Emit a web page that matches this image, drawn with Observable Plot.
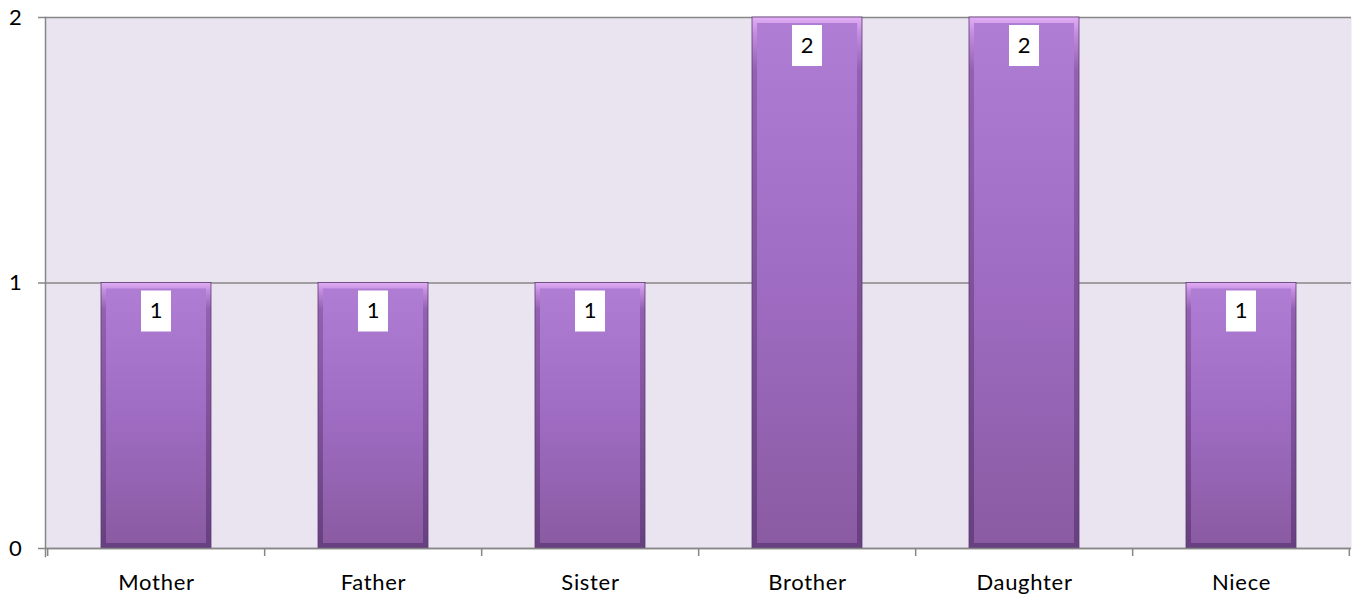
<!DOCTYPE html>
<html>
<head>
<meta charset="utf-8">
<script src="https://cdn.jsdelivr.net/npm/d3@7"></script>
<script src="https://cdn.jsdelivr.net/npm/@observablehq/plot@0.6"></script>
<style>
  html, body { margin: 0; padding: 0; background: #ffffff; }
  #chart svg { display: block; }
</style>
</head>
<body>
<div id="chart"></div>
<script>
const categories = ["Mother", "Father", "Sister", "Brother", "Daughter", "Niece"];
const counts = [1, 1, 1, 2, 2, 1];
const yTicks = [0, 1, 2];

const data = categories.map((c, i) => ({category: c, count: counts[i]}));

const W = 1353, H = 594;
const mL = 45, mR = 2, mT = 17, mB = 46;
const halfBand = (W - mL - mR) / categories.length / 2;
const fontFamily = "Lato, 'Open Sans', sans-serif";
const axisGray = "#878787";

const chart = Plot.plot({
  width: W,
  height: H,
  marginLeft: mL,
  marginRight: mR,
  marginTop: mT,
  marginBottom: mB,
  style: {fontFamily, fontSize: "22px", color: "#000", background: "#ffffff", letterSpacing: "0.7px"},
  x: {type: "band", domain: categories, paddingInner: 0.495, paddingOuter: 0.2475, label: null},
  y: {type: "linear", domain: [0, 2], label: null},
  marks: [
    Plot.frame({fill: "#eae3f0", stroke: null}),
    Plot.gridY(yTicks, {stroke: axisGray, strokeOpacity: 1, strokeWidth: 1.5}),
    // outer bevel layer
    Plot.barY(data, {x: "category", y: "count", fill: "url(#bevelGrad)", stroke: "#5e3a73", strokeWidth: 0.8}),
    // inner face
    Plot.barY(data, {x: "category", y: "count", fill: "url(#faceGrad)", insetLeft: 5, insetRight: 5, insetTop: 6, insetBottom: 5}),
    // label boxes
    Plot.barY(data, {x: "category", y1: "count", y2: "count", fill: "#ffffff", insetLeft: 40, insetRight: 40, insetTop: 8, insetBottom: -49}),
    Plot.text(data, {x: "category", y: "count", text: d => String(d.count), dy: 28, fontSize: 22, fill: "#000", lineAnchor: "middle"}),
    // axis lines
    Plot.frame({anchor: "left", stroke: axisGray, strokeWidth: 1.5, insetBottom: -8}),
    Plot.ruleY([0], {stroke: axisGray, strokeWidth: 1.5}),
    // category boundary ticks
    Plot.ruleX(categories, {x: d => d, dx: -halfBand, y1: 0, y2: 0, insetBottom: -8, stroke: axisGray, strokeWidth: 1.5}),
    Plot.ruleX(categories.slice(-1), {x: d => d, dx: halfBand - 1, y1: 0, y2: 0, insetBottom: -8, stroke: axisGray, strokeWidth: 1.5}),
    Plot.axisY(yTicks, {tickSize: 7, tickPadding: 16, stroke: axisGray, strokeWidth: 1.5, fontSize: 22, tickFormat: d => String(d)}),
    Plot.axisX({tickSize: 0, tickPadding: 26, fontSize: 22})
  ]
});

// gradients
const svg = d3.select(chart);
const defs = svg.insert("defs", ":first-child");
const bevel = defs.append("linearGradient").attr("id", "bevelGrad").attr("x1", 0).attr("y1", 0).attr("x2", 0).attr("y2", 1);
bevel.append("stop").attr("offset", "0%").attr("stop-color", "#e2aef5");
bevel.append("stop").attr("offset", "3%").attr("stop-color", "#c48ee0");
bevel.append("stop").attr("offset", "10%").attr("stop-color", "#9460b2");
bevel.append("stop").attr("offset", "100%").attr("stop-color", "#674080");
const face = defs.append("linearGradient").attr("id", "faceGrad").attr("x1", 0).attr("y1", 0).attr("x2", 0).attr("y2", 1);
face.append("stop").attr("offset", "0%").attr("stop-color", "#b07dd5");
face.append("stop").attr("offset", "50%").attr("stop-color", "#9f6cc3");
face.append("stop").attr("offset", "100%").attr("stop-color", "#8a5ba2");

document.getElementById("chart").appendChild(chart);
</script>
</body>
</html>
